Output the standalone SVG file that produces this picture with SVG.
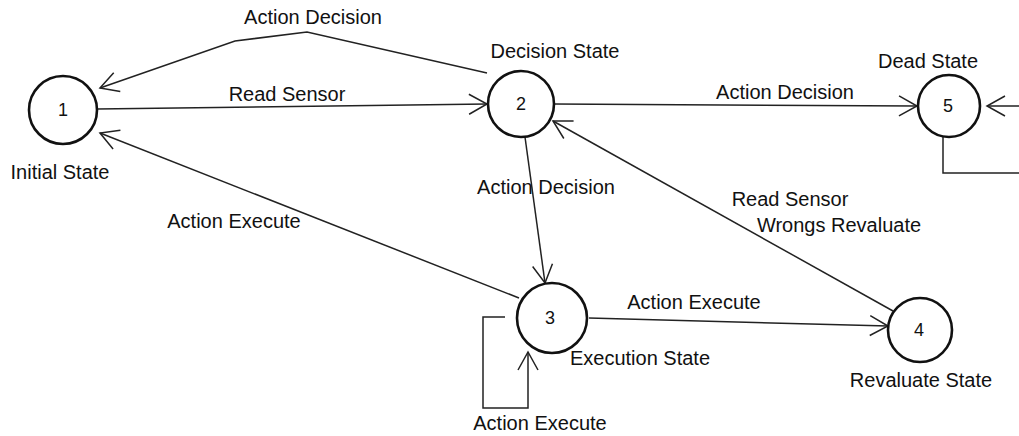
<svg xmlns="http://www.w3.org/2000/svg" width="1019" height="436" viewBox="0 0 1019 436">
<style>
.st{fill:#fff;stroke:#111;stroke-width:2.6}
.num{font-family:"Liberation Sans",Arial,sans-serif;font-size:18px;fill:#111;text-anchor:middle}
.lbl{font-family:"Liberation Sans",Arial,sans-serif;font-size:20px;fill:#111;text-anchor:middle}
.edge{fill:none;stroke:#222;stroke-width:1.5}
</style>
<defs>
<marker id="arr" viewBox="-20 -12 22 24" markerWidth="22" markerHeight="24" refX="0" refY="0" orient="auto" markerUnits="userSpaceOnUse">
<path d="M-18,-10 L0,0 L-18,10" fill="none" stroke="#222" stroke-width="1.5"/>
</marker>
</defs>
<rect width="1019" height="436" fill="#fff"/>
<g id="connectors">
<path class="edge" d="M97,109 L487,104" marker-end="url(#arr)"/>
<path class="edge" d="M487,73 L307,32 L235,41 L100,88" marker-end="url(#arr)"/>
<path class="edge" d="M519,298 L100,133" marker-end="url(#arr)"/>
<path class="edge" d="M554,104 L917,106" marker-end="url(#arr)"/>
<path class="edge" d="M525,137 L545,283" marker-end="url(#arr)"/>
<path class="edge" d="M589,318 L888,326" marker-end="url(#arr)"/>
<path class="edge" d="M893,311 L553,121" marker-end="url(#arr)"/>
<path class="edge" d="M505,317 L483,317 L483,408 L528,408 L528,352" marker-end="url(#arr)"/>
<path class="edge" d="M943,137 L943,173 L1030,173 L1030,106 L987,106" marker-end="url(#arr)"/>
<text class="lbl" x="313" y="24">Action Decision</text>
<text class="lbl" x="287" y="101">Read Sensor</text>
<text class="lbl" x="785" y="99">Action Decision</text>
<text class="lbl" x="546" y="194">Action Decision</text>
<text class="lbl" x="234" y="228">Action Execute</text>
<text class="lbl" x="790" y="206">Read Sensor</text>
<text class="lbl" x="839" y="232">Wrongs Revaluate</text>
<text class="lbl" x="694" y="309">Action Execute</text>
<text class="lbl" x="540" y="430">Action Execute</text>
</g>
<g id="node1"><circle class="st" cx="63" cy="110" r="34"/><text class="num" x="63" y="116">1</text><text class="lbl" x="60" y="179">Initial State</text></g>
<g id="node2"><circle class="st" cx="521" cy="104" r="33"/><text class="num" x="521" y="110">2</text><text class="lbl" x="555" y="58">Decision State</text></g>
<g id="node3"><circle class="st" cx="552" cy="318" r="35"/><text class="num" x="550" y="324">3</text><text class="lbl" x="640" y="365">Execution State</text></g>
<g id="node4"><circle class="st" cx="920" cy="330" r="32"/><text class="num" x="919" y="336">4</text><text class="lbl" x="921" y="387">Revaluate State</text></g>
<g id="node5"><circle class="st" cx="949" cy="106" r="31"/><text class="num" x="948" y="112">5</text><text class="lbl" x="928" y="68">Dead State</text></g>
</svg>
